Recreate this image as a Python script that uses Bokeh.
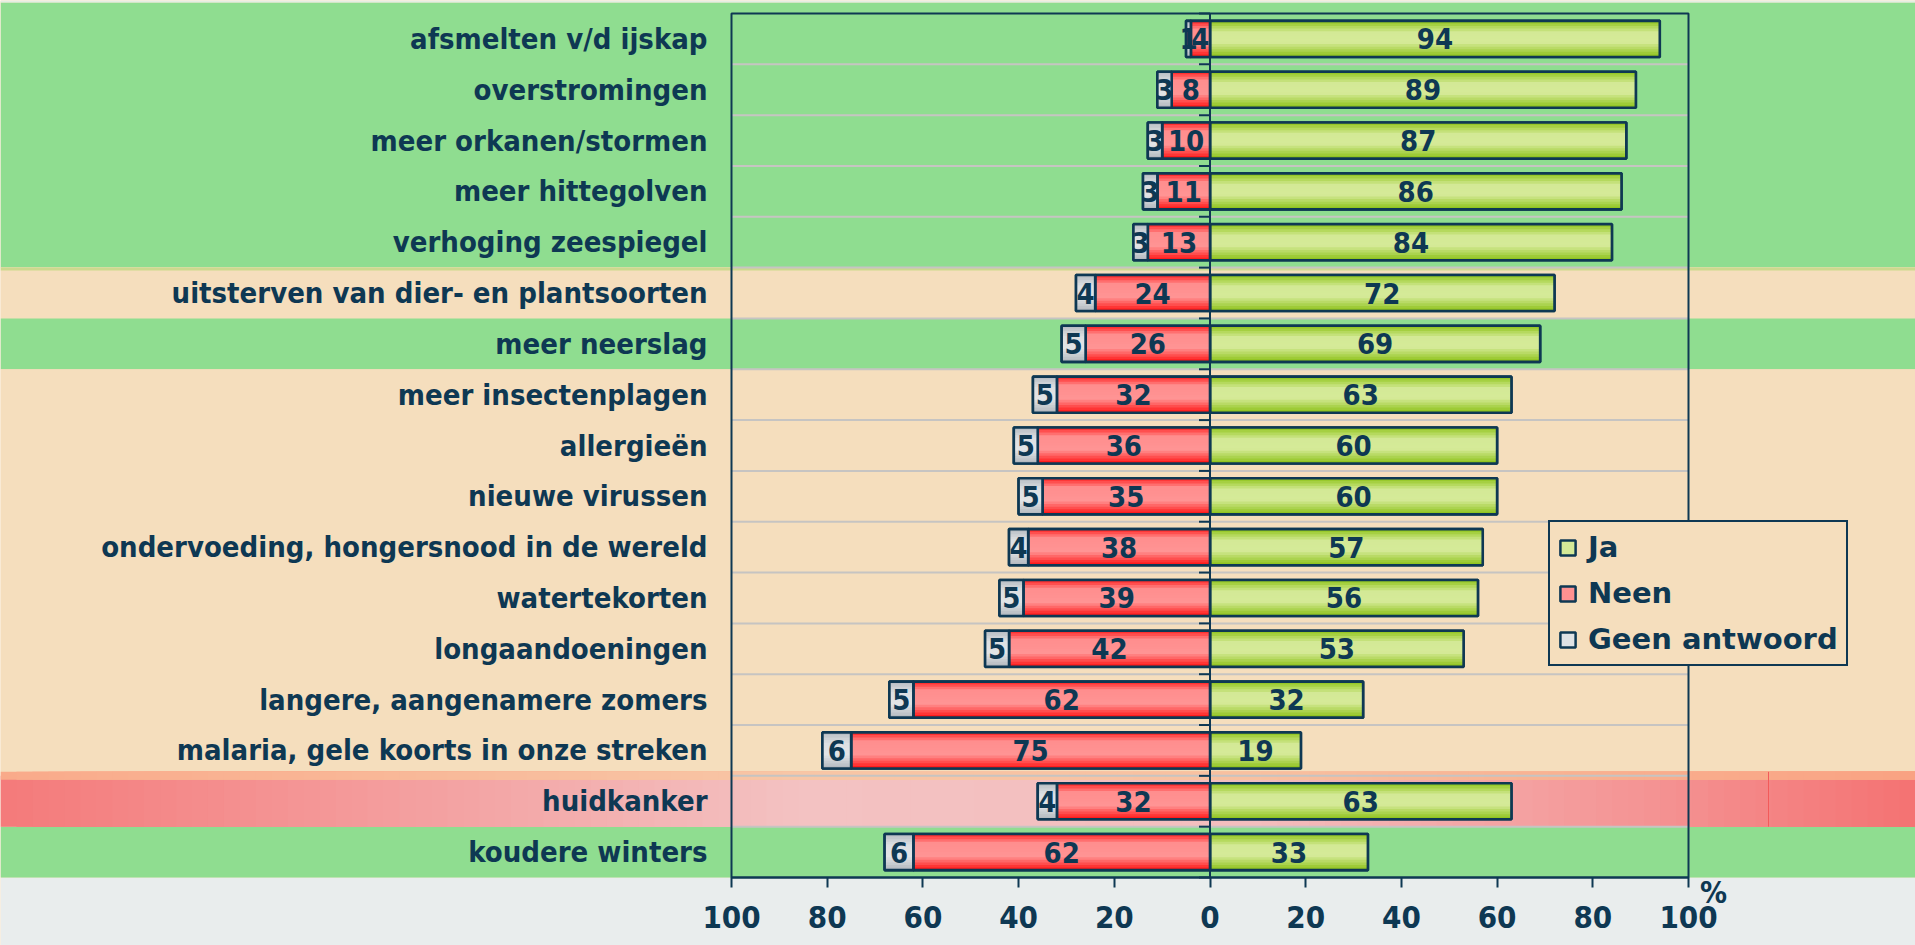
import numpy as np
from bokeh.plotting import figure
from bokeh.models import Range1d, FixedTicker, Legend, LegendItem, ColumnDataSource
from bokeh.core.properties import value
from bokeh.embed import file_html
from bokeh.resources import INLINE

# ---------------- data (top row first) ----------------
categories = [
    "afsmelten v/d ijskap",
    "overstromingen",
    "meer orkanen/stormen",
    "meer hittegolven",
    "verhoging zeespiegel",
    "uitsterven van dier- en plantsoorten",
    "meer neerslag",
    "meer insectenplagen",
    "allergieën",
    "nieuwe virussen",
    "ondervoeding, hongersnood in de wereld",
    "watertekorten",
    "longaandoeningen",
    "langere, aangenamere zomers",
    "malaria, gele koorts in onze streken",
    "huidkanker",
    "koudere winters",
]
ja = [94, 89, 87, 86, 84, 72, 69, 63, 60, 60, 57, 56, 53, 32, 19, 63, 33]
neen = [4, 8, 10, 11, 13, 24, 26, 32, 36, 35, 38, 39, 42, 62, 75, 32, 62]
geen = [1, 3, 3, 3, 3, 4, 5, 5, 5, 5, 4, 5, 5, 5, 6, 4, 6]
series_names = ["Ja", "Neen", "Geen antwoord"]
x_ticks = [-100, -80, -60, -40, -20, 0, 20, 40, 60, 80, 100]
x_tick_labels = ["100", "80", "60", "40", "20", "0", "20", "40", "60", "80", "100"]
axis_unit = "%"

# ---------------- styles ----------------
row_theme = ["g", "g", "g", "g", "g", "p", "g", "p", "p", "p", "p", "p", "p", "p", "p", "r", "g"]
NAVY = "#0E3853"
GREEN_BG = "#8FDD90"
PEACH = "#F5DEBD"
LIGHT = "#E9EDED"
GRID = "#C6C4C2"
FONT = "DejaVu Sans Condensed"
LEG_FONT = "DejaVu Sans"

W, H = 1915, 945
PLOT_L, PLOT_R = 731, 1688      # px of -100 and +100
FR_TOP, FR_BOT = 13, 877        # px of top and bottom of the category area
px_per_x = (PLOT_R - PLOT_L) / 200.0
x0 = -100 - PLOT_L / px_per_x
x1 = x0 + W / px_per_x
n = len(categories)
ys = [n - 1 - i for i in range(n)]
unit = (FR_BOT - FR_TOP) / n
cat_lo = -0.5
cat_hi = n - 0.5
y_hi = cat_hi + FR_TOP / unit
y_lo = cat_lo - (H - FR_BOT) / unit


def page_to_x(px):
    return x0 + px / px_per_x


def hexrgb(h):
    h = h.lstrip("#")
    return tuple(int(h[i:i + 2], 16) for i in (0, 2, 4))


def interp(anchors, pos):
    ps = [a[0] for a in anchors]
    cs = [hexrgb(a[1]) for a in anchors]
    r = [np.interp(pos, ps, [c[k] for c in cs]) for k in range(3)]
    return "#%02x%02x%02x" % tuple(int(round(v)) for v in r)


p = figure(width=W, height=H, x_range=Range1d(x0, x1), y_range=Range1d(y_lo, y_hi),
           output_backend="svg", toolbar_location=None, y_axis_location=None,
           x_axis_location="below", min_border=0)
p.background_fill_color = PEACH
p.border_fill_color = LIGHT
p.outline_line_color = None
p.grid.visible = False

# bottom light area
p.quad(left=[x0], right=[x1], bottom=[y_lo], top=[cat_lo], fill_color=LIGHT, line_color=None)

# ---------------- row bands (merged runs) ----------------
band_l, band_r, band_b, band_t, band_c = [], [], [], [], []
i = 0
while i < n:
    j = i
    while j + 1 < n and row_theme[j + 1] == row_theme[i]:
        j += 1
    band_l.append(x0)
    band_r.append(x1)
    band_b.append(ys[j] - 0.5)
    band_t.append(y_hi - 2 / unit if i == 0 else ys[i] + 0.5)
    band_c.append({"g": GREEN_BG, "p": PEACH, "r": "#F3C2C2"}[row_theme[i]])
    i = j + 1
p.quad(left=band_l, right=band_r, bottom=band_b, top=band_t, fill_color=band_c, line_color=None)
# thin light strip at the very top
p.quad(left=[x0], right=[x1], bottom=[y_hi - 2 / unit], top=[y_hi], fill_color="#E4EEE4", line_color=None)

# gradient for highlighted row
pink_anchors = [(0, "#F47A7A"), (800, "#F3C2C2"), (1250, "#F3BEBE"), (1688, "#F48F8F"), (1915, "#F47272")]
orange_anchors = [(0, "#F9AA8A"), (800, "#F8C6A6"), (1250, "#F8C0A0"), (1688, "#F9AC8C"), (1915, "#F9A282")]
K = 120
edges = np.linspace(0, W, K + 1)
for i, y in enumerate(ys):
    if row_theme[i] != "r":
        continue
    sl = dict(left=[], right=[], bottom=[], top=[], color=[])
    so = dict(left=[], right=[], bottom=[], top=[], color=[])
    for k in range(K):
        a, b = edges[k], edges[k + 1]
        c = (a + b) / 2
        for d, anchors, yb, yt in ((sl, pink_anchors, y - 0.5, y + 0.5),
                                   (so, orange_anchors, y + 0.5 - 4 / unit, y + 0.5 + 4 / unit)):
            d["left"].append(page_to_x(a))
            d["right"].append(x1)
            d["bottom"].append(yb)
            d["top"].append(yt)
            d["color"].append(interp(anchors, c))
    p.quad(left="left", right="right", bottom="bottom", top="top", fill_color="color",
           line_color=None, source=ColumnDataSource(sl))
    p.quad(left="left", right="right", bottom="bottom", top="top", fill_color="color",
           line_color=None, source=ColumnDataSource(so))
    p.segment(x0=[page_to_x(1768)], x1=[page_to_x(1768)], y0=[y - 0.5], y1=[y + 0.5 + 4 / unit],
              line_color="#F25A5A", line_width=1)

# green/peach transition strip
for i in range(n - 1):
    if row_theme[i] == "g" and row_theme[i + 1] == "p" and i < 5:
        yb = ys[i] - 0.5 - 1.5 / unit
        p.segment(x0=[x0], x1=[x1], y0=[yb], y1=[yb], line_color="#CDD98E", line_width=3)

# horizontal grid lines at category boundaries (inside plot box only)
gy = [y + 0.5 for y in ys[1:]]
p.segment(x0=[-100] * len(gy), x1=[100] * len(gy), y0=gy, y1=gy, line_color=GRID, line_width=2)

# ---------------- bars ----------------
HB = 0.355
NS = 14
grad = {
    "Ja": [(0, "#8EC418"), (0.32, "#D3E996"), (0.6, "#D5EA98"), (1, "#8AC014")],
    "Neen": [(0, "#FF2020"), (0.25, "#FF8E8E"), (0.62, "#FF9494"), (1, "#FF1010")],
    "Geen antwoord": [(0, "#B5BBC1"), (0.3, "#DDE0E3"), (0.62, "#E2E4E6"), (1, "#B0B6BC")],
}
segs = {
    "Ja": ([0] * n, list(ja)),
    "Neen": ([-v for v in neen], [0] * n),
    "Geen antwoord": ([-(a + b) for a, b in zip(neen, geen)], [-v for v in neen]),
}
base_renderers = {}
for name in series_names:
    lefts, rights = segs[name]
    mid = interp(grad[name], 0.45)
    base = p.quad(left=lefts, right=rights, bottom=[y - HB for y in ys], top=[y + HB for y in ys],
                  fill_color=mid, line_color=NAVY, line_width=2.5)
    base_renderers[name] = base
    sd = dict(left=[], right=[], bottom=[], top=[], color=[])
    for j, y in enumerate(ys):
        for k in range(NS):
            t0 = k / NS
            t1 = (k + 1) / NS
            sd["left"].append(lefts[j])
            sd["right"].append(rights[j])
            sd["top"].append(y + HB - 2 * HB * t0)
            sd["bottom"].append(y - HB)
            sd["color"].append(interp(grad[name], (t0 + t1) / 2))
    p.quad(left="left", right="right", bottom="bottom", top="top", fill_color="color",
           line_color=None, source=ColumnDataSource(sd))
    p.quad(left=lefts, right=rights, bottom=[y - HB for y in ys], top=[y + HB for y in ys],
           fill_color=None, line_color=NAVY, line_width=2.6)

# zero axis with ticks at category boundaries
p.segment(x0=[0], x1=[0], y0=[cat_lo], y1=[cat_hi], line_color=NAVY, line_width=2)
ty = [y + 0.5 for y in ys] + [ys[-1] - 0.5]
p.segment(x0=[-11 / px_per_x] * len(ty), x1=[0] * len(ty), y0=ty, y1=ty, line_color=NAVY, line_width=2)

# plot box
p.quad(left=[-100], right=[100], bottom=[cat_lo], top=[cat_hi], fill_color=None,
       line_color=NAVY, line_width=2)

# ---------------- texts ----------------
txt = dict(text_font=value(FONT), text_font_style="bold", text_font_size="29px",
           text_color=NAVY, text_baseline="middle")
p.text(x=[-100] * n, y=ys, text=categories, x_offset=-24, text_align="right", **txt)
p.text(x=[v / 2 for v in ja], y=ys, text=[str(v) for v in ja], text_align="center", **txt)
p.text(x=[-v / 2 for v in neen], y=ys, text=[str(v) for v in neen], text_align="center", **txt)
p.text(x=[-(a + b / 2) for a, b in zip(neen, geen)], y=ys, text=[str(v) for v in geen],
       text_align="center", **txt)

# unit sign next to the axis end
p.text(x=[100], y=[cat_lo], text=[axis_unit], x_offset=25, y_offset=15,
       text_font=value(FONT), text_font_style="bold", text_font_size="30px",
       text_color=NAVY, text_align="center", text_baseline="middle")

# ---------------- x axis ----------------
ax = p.xaxis[0]
ax.fixed_location = cat_lo
ax.ticker = FixedTicker(ticks=x_ticks)
ax.major_label_overrides = {t: l for t, l in zip(x_ticks, x_tick_labels)}
ax.bounds = (-100, 100)
ax.minor_tick_line_color = None
ax.major_tick_out = 10
ax.major_tick_in = 0
ax.major_tick_line_color = NAVY
ax.major_tick_line_width = 2
ax.axis_line_color = NAVY
ax.axis_line_width = 2
ax.major_label_text_font = FONT
ax.major_label_text_font_style = "bold"
ax.major_label_text_font_size = "31px"
ax.major_label_text_color = NAVY
ax.major_label_standoff = 18

# ---------------- legend ----------------
legend = Legend(items=[LegendItem(label=nm, renderers=[base_renderers[nm]]) for nm in series_names],
                location=(1548, H - 666), orientation="vertical",
                label_text_font=LEG_FONT, label_text_font_style="bold", label_text_font_size="29px",
                label_text_color=NAVY, glyph_width=19, glyph_height=19, label_standoff=11,
                padding=8, spacing=12, margin=0,
                background_fill_color=PEACH, background_fill_alpha=1.0,
                border_line_color=NAVY, border_line_width=2, border_line_alpha=1.0)
p.add_layout(legend)

open("out.html", "w").write(file_html(p, INLINE))
